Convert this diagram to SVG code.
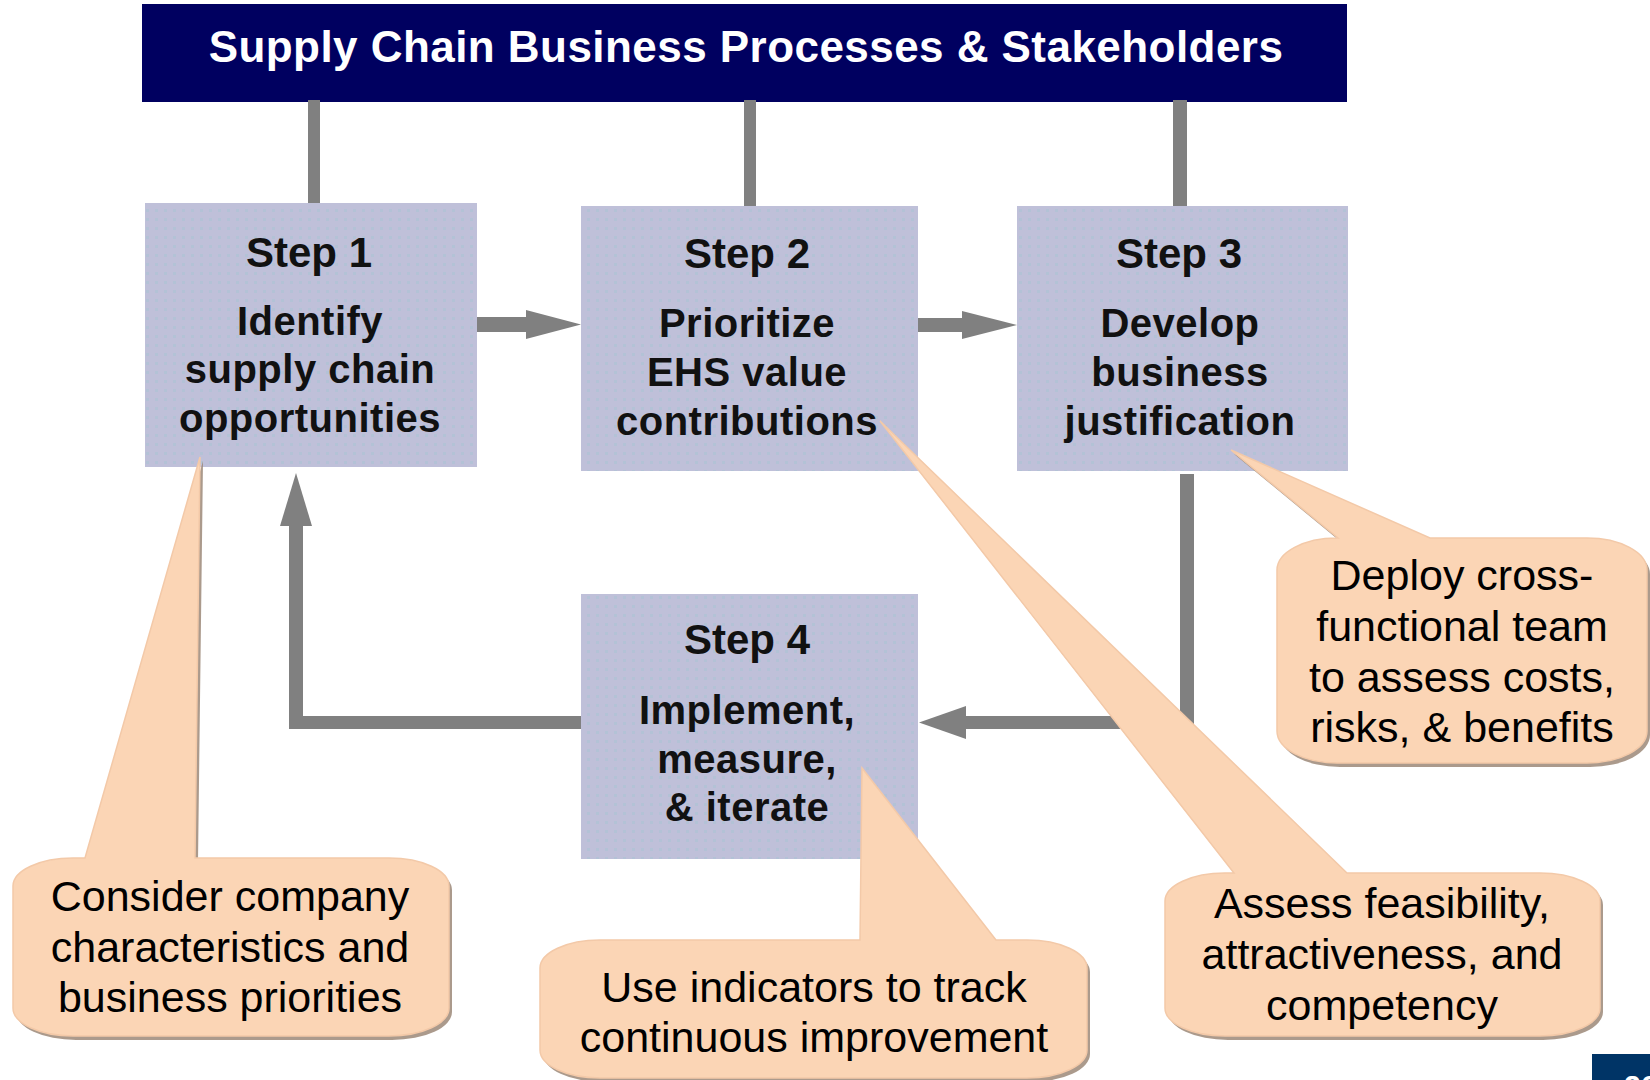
<svg xmlns="http://www.w3.org/2000/svg" width="1650" height="1080" viewBox="0 0 1650 1080">
<defs>
<pattern id="dots" width="9" height="9" patternUnits="userSpaceOnUse">
<rect width="9" height="9" fill="#bfc0d9"/>
<rect x="2" y="2" width="3" height="3" fill="#b3c2d6"/>
</pattern>
<style>
.step{fill:url(#dots);}
.lbl{font-family:"Liberation Sans",Arial,sans-serif;font-weight:bold;font-size:42px;fill:#111;text-anchor:middle;}
.body{font-family:"Liberation Sans",Arial,sans-serif;font-weight:bold;font-size:40px;fill:#111;text-anchor:middle;letter-spacing:0.5px;}
.ctext{font-family:"Liberation Sans",Arial,sans-serif;font-size:43px;fill:#000;text-anchor:middle;}
.conn{fill:#808080;}
.callout{fill:#fbd5b5;stroke:#f3c9a8;stroke-width:1.5;}
.shadow{fill:#9c8878;opacity:0.85;}
</style>
</defs>
<rect width="1650" height="1080" fill="#ffffff"/>

<g id="title">
<rect x="142" y="4" width="1205" height="98" fill="#000060"/>
<text x="746" y="62" font-family="'Liberation Sans',Arial,sans-serif" font-weight="bold" font-size="44" letter-spacing="0.45" fill="#ffffff" text-anchor="middle">Supply Chain Business Processes &amp; Stakeholders</text>
</g>

<g id="connectors">
<rect class="conn" x="308" y="100" width="12" height="104"/>
<rect class="conn" x="744" y="100" width="12" height="107"/>
<rect class="conn" x="1173" y="100" width="14" height="107"/>
<rect class="conn" x="477" y="317" width="52" height="15"/>
<polygon class="conn" points="526,310 581,324.5 526,339"/>
<rect class="conn" x="918" y="318" width="48" height="14"/>
<polygon class="conn" points="962,311 1017,325 962,339"/>
<rect class="conn" x="1180" y="474" width="14" height="255"/>
<rect class="conn" x="962" y="716" width="232" height="13"/>
<polygon class="conn" points="966,706 919,722.5 966,739"/>
<rect class="conn" x="289" y="520" width="14" height="209"/>
<rect class="conn" x="289" y="716" width="292" height="13"/>
<polygon class="conn" points="296,473 312,526 280,526"/>
</g>

<g id="step1">
<rect class="step" x="145" y="203" width="332" height="264"/>
<text class="lbl" x="309" y="267">Step 1</text>
<text class="body" x="310" y="335">Identify</text>
<text class="body" x="310" y="383">supply chain</text>
<text class="body" x="310" y="432">opportunities</text>
</g>

<g id="step2">
<rect class="step" x="581" y="206" width="337" height="265"/>
<text class="lbl" x="747" y="268">Step 2</text>
<text class="body" x="747" y="337">Prioritize</text>
<text class="body" x="747" y="386">EHS value</text>
<text class="body" x="747" y="435">contributions</text>
</g>

<g id="step3">
<rect class="step" x="1017" y="206" width="331" height="265"/>
<text class="lbl" x="1179" y="268">Step 3</text>
<text class="body" x="1180" y="337">Develop</text>
<text class="body" x="1180" y="386">business</text>
<text class="body" x="1180" y="435">justification</text>
</g>

<g id="step4">
<rect class="step" x="581" y="594" width="337" height="265"/>
<text class="lbl" x="747" y="654">Step 4</text>
<text class="body" x="747" y="724">Implement,</text>
<text class="body" x="747" y="773">measure,</text>
<text class="body" x="747" y="821">&amp; iterate</text>
</g>

<g id="callout1">
<path class="shadow" transform="translate(3,4)" d="M73,858 L85,858 L200,457 L195,858 L389,858 A60 28 0 0 1 449,886 L449,1008 A60 28 0 0 1 389,1036 L73,1036 A60 28 0 0 1 13,1008 L13,886 A60 28 0 0 1 73,858 Z"/>
<path class="callout" d="M73,858 L85,858 L200,457 L195,858 L389,858 A60 28 0 0 1 449,886 L449,1008 A60 28 0 0 1 389,1036 L73,1036 A60 28 0 0 1 13,1008 L13,886 A60 28 0 0 1 73,858 Z"/>
<text class="ctext" x="230" y="911">Consider company</text>
<text class="ctext" x="230" y="962">characteristics and</text>
<text class="ctext" x="230" y="1012">business priorities</text>
</g>

<g id="callout2">
<path class="shadow" transform="translate(3,4)" d="M600,940 L860,940 L862,768 L996,940 L1027,940 A60 28 0 0 1 1087,968 L1087,1050 A60 28 0 0 1 1027,1078 L600,1078 A60 28 0 0 1 540,1050 L540,968 A60 28 0 0 1 600,940 Z"/>
<path class="callout" d="M600,940 L860,940 L862,768 L996,940 L1027,940 A60 28 0 0 1 1087,968 L1087,1050 A60 28 0 0 1 1027,1078 L600,1078 A60 28 0 0 1 540,1050 L540,968 A60 28 0 0 1 600,940 Z"/>
<text class="ctext" x="814" y="1002">Use indicators to track</text>
<text class="ctext" x="814" y="1052">continuous improvement</text>
</g>

<g id="callout3">
<path class="shadow" transform="translate(3,4)" d="M1225,873 L1234,873 L880,421 L1347,873 L1540,873 A60 28 0 0 1 1600,901 L1600,1008 A60 28 0 0 1 1540,1036 L1225,1036 A60 28 0 0 1 1165,1008 L1165,901 A60 28 0 0 1 1225,873 Z"/>
<path class="callout" d="M1225,873 L1234,873 L880,421 L1347,873 L1540,873 A60 28 0 0 1 1600,901 L1600,1008 A60 28 0 0 1 1540,1036 L1225,1036 A60 28 0 0 1 1165,1008 L1165,901 A60 28 0 0 1 1225,873 Z"/>
<text class="ctext" x="1382" y="918">Assess feasibility,</text>
<text class="ctext" x="1382" y="969">attractiveness, and</text>
<text class="ctext" x="1382" y="1020">competency</text>
</g>

<g id="callout4">
<path class="shadow" transform="translate(3,4)" d="M1338,538 L1231,450 L1430,538 L1587,538 A60 32 0 0 1 1647,570 L1647,731 A60 32 0 0 1 1587,763 L1337,763 A60 32 0 0 1 1277,731 L1277,570 A60 32 0 0 1 1337,538 Z"/>
<path class="callout" d="M1338,538 L1231,450 L1430,538 L1587,538 A60 32 0 0 1 1647,570 L1647,731 A60 32 0 0 1 1587,763 L1337,763 A60 32 0 0 1 1277,731 L1277,570 A60 32 0 0 1 1337,538 Z"/>
<text class="ctext" x="1462" y="590">Deploy cross-</text>
<text class="ctext" x="1462" y="641">functional team</text>
<text class="ctext" x="1462" y="692">to assess costs,</text>
<text class="ctext" x="1462" y="742">risks, &amp; benefits</text>
</g>

<g id="pagebox">
<rect x="1592" y="1054" width="60" height="30" fill="#003466"/>
<text x="1624" y="1096" font-family="'Liberation Sans',Arial,sans-serif" font-weight="bold" font-size="30" fill="#ffffff">26</text>
</g>
</svg>
